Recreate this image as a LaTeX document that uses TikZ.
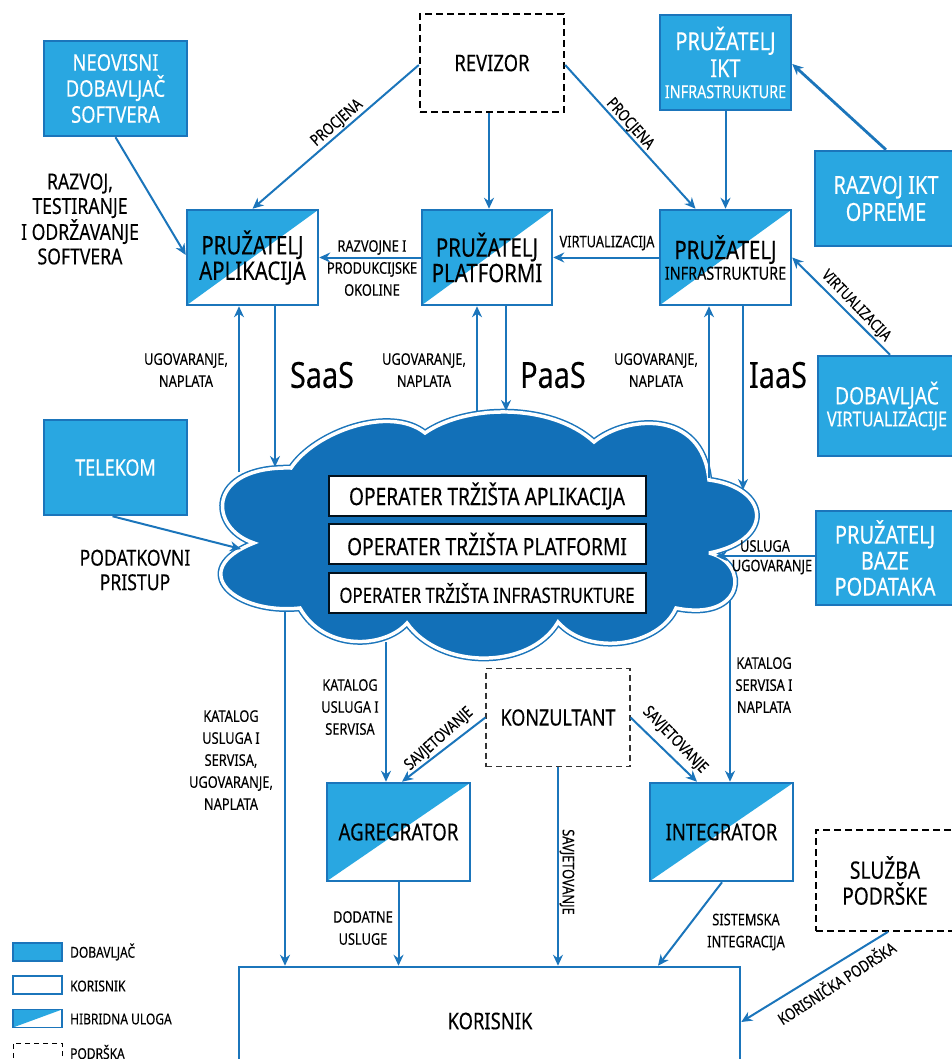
\documentclass[tikz,border=0pt]{standalone}
\usepackage{fontspec}
\setmainfont[FakeStretch=0.80,FakeBold=0.2]{Noto Sans}
\definecolor{edge}{HTML}{1B75BB}
\definecolor{fillb}{HTML}{29A7E1}
\definecolor{cloudb}{HTML}{1270B8}
\newcommand{\fs}[1]{\fontsize{#1}{#1}\selectfont}
\tikzset{
 x=1pt,y=-1pt,
 base/.style={inner sep=0pt,align=center,text=black,line width=2.5pt},
 dob/.style={base,draw=edge,fill=fillb,text=white},
 kor/.style={base,draw=edge,fill=white},
 hyb/.style={base,draw=edge,fill=white,path picture={
   \fill[fillb] (path picture bounding box.north west)--(path picture bounding box.north east)--(path picture bounding box.south west)--cycle;}},
 pod/.style={base,draw=black,fill=white,line width=2.4pt,dash pattern=on 7pt off 4pt},
 podt/.style={base,draw=black!80,fill=white,line width=1.2pt,dash pattern=on 6pt off 4pt},
 opbox/.style={base,draw=black!85!cloudb,fill=white,line width=2pt,minimum width=317,minimum height=40,font=\fs{24}},
 ar/.style={draw=edge,line width=2pt,-{Stealth[length=11pt,width=10pt]}},
 lab/.style={inner sep=0pt,align=center,text=black,font=\fs{16}},
 big/.style={inner sep=0pt,align=center,text=black,font=\fs{22},execute at begin node=\setlength{\baselineskip}{24.5pt}},
 svc/.style={inner sep=0pt,text=black,font=\fs{36}},
 leg/.style={inner sep=0pt,anchor=west,text=black,font=\fs{15}},
}
\usetikzlibrary{arrows.meta}
\begin{document}
\begin{tikzpicture}
\useasboundingbox (0,0) rectangle (952,1059);
% cloud
\def\cloudpath{(254,543) .. controls (208,528) and (206,466) .. (291,468)
 .. controls (315,432) and (390,405) .. (425,433)
 .. controls (465,405) and (550,402) .. (594,442)
 .. controls (625,416) and (702,408) .. (709,480)
 .. controls (770,488) and (775,540) .. (709,553)
 .. controls (750,563) and (745,622) .. (676,608)
 .. controls (660,645) and (590,658) .. (558,622)
 .. controls (530,670) and (440,670) .. (407,623)
 .. controls (385,648) and (325,652) .. (300,608)
 .. controls (235,615) and (185,570) .. (254,543) -- cycle}
\draw[edge,line width=6.5pt,miter limit=3] \cloudpath;
\draw[white,fill=cloudb,line width=3.5pt,miter limit=3] \cloudpath;
\coordinate (cAppUp) at (239,472);
\coordinate (cAppDn) at (275,467);
\coordinate (cPlaUp) at (477,411);
\coordinate (cPlaDn) at (506,411);
\coordinate (cInfUp) at (709,478);
\coordinate (cInfDn) at (743,490);
\coordinate (cTel) at (241,549);
\coordinate (cBaz) at (716,556);
\coordinate (cKor) at (285,612);
\coordinate (cAgr) at (386,642);
\coordinate (cInt) at (730,600);
% operators
\node[opbox] (op1) at (487,496) {OPERATER TRŽIŠTA APLIKACIJA};
\node[opbox] (op2) at (487,544) {OPERATER TRŽIŠTA PLATFORMI};
\node[opbox,font=\fs{21}] (op3) at (487,593) {OPERATER TRŽIŠTA INFRASTRUKTURE};
% boxes
\node[dob,minimum width=143,minimum height=95,font=\fs{23}] (neo) at (115.5,88.5) {NEOVISNI\\[3pt]DOBAVLJAČ\\[3pt]SOFTVERA};
\node[pod,minimum width=144,minimum height=98,font=\fs{23}] (rev) at (492,63) {REVIZOR};
\node[dob,minimum width=131,minimum height=95,font=\fs{25}] (ikt) at (725.5,62.5) {PRUŽATELJ\\[2pt]IKT\\[-4pt]{\fs{18}INFRASTRUKTURE}};
\node[dob,minimum width=142,minimum height=95,font=\fs{25}] (raz) at (886,198.5) {RAZVOJ IKT\\[2pt]OPREME};
\node[hyb,minimum width=131,minimum height=95,font=\fs{25.5}] (app) at (252.5,257.5) {PRUŽATELJ\\[0pt]APLIKACIJA};
\node[hyb,minimum width=130,minimum height=95,font=\fs{25.5}] (pla) at (487,257.5) {PRUŽATELJ\\[0pt]PLATFORMI};
\node[hyb,minimum width=131,minimum height=95,font=\fs{25.5}] (inf) at (725.5,257.5) {PRUŽATELJ\\[-5pt]{\fs{18}INFRASTRUKTURE}};
\node[dob,minimum width=138,minimum height=100,font=\fs{24}] (vir) at (887,406) {DOBAVLJAČ\\[-2pt]{\fs{20.5}VIRTUALIZACIJE}};
\node[dob,minimum width=143,minimum height=95,font=\fs{22.5}] (tel) at (115.5,467.5) {TELEKOM};
\node[dob,minimum width=138,minimum height=94,font=\fs{25}] (baz) at (885,558) {PRUŽATELJ\\[1pt]BAZE\\[1pt]PODATAKA};
\node[podt,minimum width=144,minimum height=98,font=\fs{22.5}] (kon) at (558,717.5) {KONZULTANT};
\node[hyb,minimum width=143,minimum height=98,font=\fs{23.5}] (agr) at (398.5,832) {AGREGRATOR};
\node[hyb,minimum width=143,minimum height=98,font=\fs{23}] (int) at (721.5,832) {INTEGRATOR};
\node[pod,line width=1.6pt,minimum width=138,minimum height=101,font=\fs{24}] (slu) at (885,880.5) {SLUŽBA\\[2pt]PODRŠKE};
\node[kor,minimum width=501,minimum height=120,font=\fs{23}] (kori) at (489.5,1027) {};
\node[inner sep=0pt,text=black,font=\fs{23}] (korit) at (490,1021) {KORISNIK};
% connectors
\draw[ar] (neo.south) -- ([yshift=2.5pt]app.west);
\draw[ar] ([yshift=-2pt]rev.west) -- (app.north);
\draw[ar] ([xshift=-3pt]rev.south) -- ([xshift=2pt]pla.north);
\draw[ar] ([yshift=-2pt]rev.east) -- ([xshift=-30pt]inf.north);
\draw[ar] (ikt.south) -- (inf.north);
\draw[ar,line width=2.8pt] (raz.north) -- ([yshift=-1.5pt]ikt.east);
\draw[ar] (pla.west) -- (app.east);
\draw[ar] (inf.west) -- (pla.east);
\draw[ar] ([xshift=3pt]vir.north) -- (inf.east);
\draw[ar] (cAppUp) -- ([xshift=-13.5pt]app.south);
\draw[ar] ([xshift=22.5pt]app.south) -- (cAppDn);
\draw[ar] (cPlaUp) -- ([xshift=-10pt]pla.south);
\draw[ar] ([xshift=19pt]pla.south) -- (cPlaDn);
\draw[ar,line width=2.6pt] (cInfUp) -- ([xshift=-16.5pt]inf.south);
\draw[ar] ([xshift=17.5pt]inf.south) -- (cInfDn);
\draw[ar] ([xshift=-3pt]tel.south) -- (cTel);
\draw[ar] (baz.west |- cBaz) -- (cBaz);
\draw[ar] (cKor) -- (kori.north -| cKor);
\draw[ar] (cAgr) -- ([xshift=-12.5pt]agr.north);
\draw[ar] (cInt) -- ([xshift=8.5pt]int.north);
\draw[ar] (kon.west) -- ([xshift=3.5pt]agr.north);
\draw[ar] (kon.east) -- ([xshift=-24.5pt]int.north);
\draw[ar,line width=1.5pt] (kon.south) -- (kori.north -| kon.south);
\draw[ar] (agr.south) -- (kori.north -| agr.south);
\draw[ar] ([xshift=0.5pt]int.south) -- ([xshift=168.5pt]kori.north);
\draw[ar] ([xshift=3pt]slu.south) -- (kori.east |- 0,1022);
% labels
\node[lab,rotate=41] (l1) at (337,123) {PROCJENA};
\node[lab,rotate=-48] (l2) at (630,124) {PROCJENA};
\node[lab] (l3) at (372,268) {RAZVOJNE I\\[6pt]PRODUKCIJSKE\\[6pt]OKOLINE};
\node[lab] (l4) at (607,243) {VIRTUALIZACIJA};
\node[lab,rotate=-46,font=\fs{15.5}] (l5) at (856,306) {VIRTUALIZACIJA};
\node[lab] (l6) at (186,370) {UGOVARANJE,\\[6pt]NAPLATA};
\node[lab] (l7) at (424,370) {UGOVARANJE,\\[6pt]NAPLATA};
\node[lab] (l8) at (656,370) {UGOVARANJE,\\[6pt]NAPLATA};
\node[svc] (saas) at (322,375) {SaaS};
\node[svc] (paas) at (553,375) {PaaS};
\node[svc] (iaas) at (778,375) {IaaS};
\node[big] (t1) at (80,219) {RAZVOJ,\\TESTIRANJE\\I ODRŽAVANJE\\SOFTVERA};
\node[big] (t2) at (135,570) {PODATKOVNI\\PRISTUP};
\node[lab] (l9) at (765,546) {USLUGA};
\node[lab] (l10) at (772,567) {UGOVARANJE};
\node[lab] (l11) at (350,707) {KATALOG\\[6pt]USLUGA I\\[6pt]SERVISA};
\node[lab] (l12) at (764,685) {KATALOG\\[6pt]SERVISA I\\[6pt]NAPLATA};
\node[lab] (l13) at (231,760) {KATALOG\\[6pt]USLUGA I\\[6pt]SERVISA,\\[6pt]UGOVARANJE,\\[6pt]NAPLATA};
\node[lab,rotate=42] (l14) at (439,739) {SAVJETOVANJE};
\node[lab,rotate=-46] (l15) at (675,740) {SAVJETOVANJE};
\node[lab,rotate=-90] (l16) at (567,872) {SAVJETOVANJE};
\node[lab] (l17) at (363,928) {DODATNE\\[6pt]USLUGE};
\node[lab] (l18) at (746,932) {SISTEMSKA\\[6pt]INTEGRACIJA};
\node[lab,rotate=33] (l19) at (836,982) {KORISNIČKA PODRŠKA};
% legend
\node[dob,line width=1.5pt,minimum width=49,minimum height=18] (g1) at (37.5,952) {};
\node[kor,line width=1.5pt,minimum width=49,minimum height=18] (g2) at (37.5,985) {};
\node[hyb,line width=1.5pt,minimum width=49,minimum height=18] (g3) at (37.5,1018.5) {};
\node[pod,line width=1pt,dash pattern=on 5pt off 4pt,minimum width=49,minimum height=18] (g4) at (37.5,1052) {};
\node[leg] (gt1) at (70,952) {DOBAVLJAČ};
\node[leg] (gt2) at (70,986) {KORISNIK};
\node[leg] (gt3) at (70,1019) {HIBRIDNA ULOGA};
\node[leg] (gt4) at (70,1052) {PODRŠKA};
\end{tikzpicture}
\end{document}
